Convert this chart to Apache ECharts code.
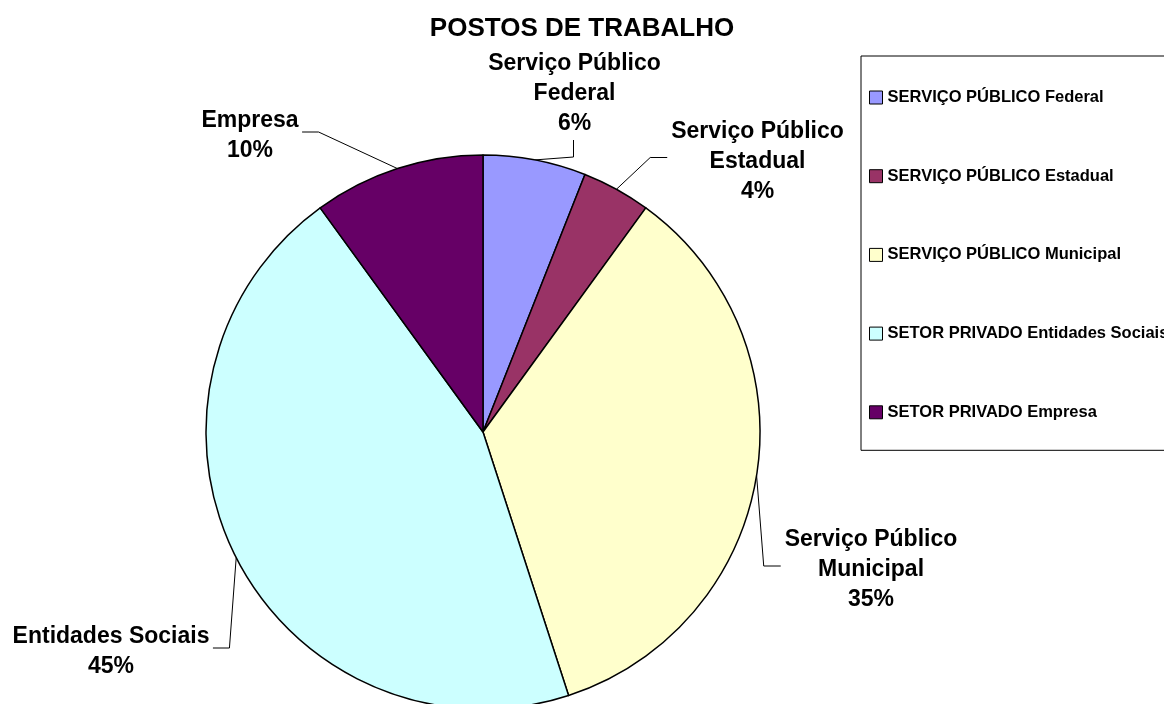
<!DOCTYPE html>
<html>
<head>
<meta charset="utf-8">
<title>POSTOS DE TRABALHO</title>
<script src="https://cdn.jsdelivr.net/npm/echarts@6.0.0/dist/echarts.min.js"></script>
<style>
  html, body { margin: 0; padding: 0; background: #fff; }
  #chart { width: 1164px; height: 704px; }
</style>
</head>
<body>
<div id="chart"></div>
<script>
// data
const legendNames = [
  'SERVIÇO PÚBLICO Federal',
  'SERVIÇO PÚBLICO Estadual',
  'SERVIÇO PÚBLICO Municipal',
  'SETOR PRIVADO Entidades Sociais',
  'SETOR PRIVADO Empresa'
];
const sliceLabels = [
  'Serviço Público\nFederal',
  'Serviço Público\nEstadual',
  'Serviço Público\nMunicipal',
  'Entidades Sociais',
  'Empresa'
];
const shares = [6, 4, 35, 45, 10];

const colors = ['#9999FF', '#993366', '#FFFFCC', '#CCFFFF', '#660066'];

// label centres and which side the leader line comes in from
const labelSpots = [
  { x: 574.5, y: 92, side: 'below' },
  { x: 757.5, y: 159.5, side: 'left' },
  { x: 871, y: 568, side: 'left' },
  { x: 111, y: 650, side: 'right' },
  { x: 250, y: 134, side: 'right' }
];

const FONT = '"Liberation Sans", Arial, Helvetica, sans-serif';
const LABEL_SIZE = 23;
const LINE_H = 30;
const TEXT_NUDGE = 2; // canvas 'middle' sits a touch high

const measure = document.createElement('canvas').getContext('2d');
measure.font = 'bold ' + LABEL_SIZE + 'px ' + FONT;
function blockWidth(str) {
  return Math.max.apply(null, str.split('\n').map(s => measure.measureText(s).width));
}

const chart = echarts.init(document.getElementById('chart'), null, { renderer: 'canvas' });

chart.setOption({
  animation: false,
  backgroundColor: '#fff',
  color: colors,
  title: {
    text: 'POSTOS DE TRABALHO',
    left: 'center',
    top: 16,
    padding: 0,
    textStyle: {
      fontFamily: FONT,
      fontSize: 26,
      fontWeight: 'bold',
      color: '#000',
      lineHeight: 26
    }
  },
  legend: {
    orient: 'vertical',
    left: 861,
    top: 56,
    padding: [33, 400, 29.5, 8],
    itemGap: 61.7,
    itemWidth: 13,
    itemHeight: 13,
    icon: 'rect',
    borderColor: '#000',
    borderWidth: 1,
    selectedMode: false,
    itemStyle: { borderColor: '#000', borderWidth: 1 },
    textStyle: {
      fontFamily: FONT,
      fontSize: 16.5,
      fontWeight: 'bold',
      color: '#000',
      lineHeight: 16
    },
    data: legendNames
  },
  series: [
    {
      type: 'pie',
      center: [483, 432],
      radius: 277,
      startAngle: 90,
      clockwise: true,
      avoidLabelOverlap: false,
      emphasis: { disabled: true },
      itemStyle: { borderColor: '#000', borderWidth: 1.5 },
      label: {
        show: true,
        position: 'outside',
        overflow: 'none',
        fontFamily: FONT,
        fontSize: LABEL_SIZE,
        fontWeight: 'bold',
        color: '#000',
        lineHeight: LINE_H,
        formatter: p => sliceLabels[p.dataIndex] + '\n' + Math.round(p.percent) + '%'
      },
      labelLine: {
        show: true,
        length: 20,
        length2: 20,
        lineStyle: { color: '#000', width: 1 }
      },
      labelLayout: function (params) {
        const spot = labelSpots[params.dataIndex];
        const w = blockWidth(params.text);
        const h = params.text.split('\n').length * LINE_H;
        const edge = params.labelLinePoints[0];
        let pts;
        if (spot.side === 'below') {
          const b = spot.y + h / 2;
          pts = [edge, [spot.x - 1, b + 20], [spot.x - 1, b + 3]];
        } else if (spot.side === 'left') {
          const l = spot.x - w / 2;
          pts = [edge, [l - 21, spot.y - 2], [l - 4, spot.y - 2]];
        } else {
          const r = spot.x + w / 2;
          pts = [edge, [r + 20, spot.y - 2], [r + 3.5, spot.y - 2]];
        }
        return {
          x: spot.x,
          y: spot.y + TEXT_NUDGE,
          align: 'center',
          verticalAlign: 'middle',
          labelLinePoints: pts
        };
      },
      data: legendNames.map((name, i) => ({ name: name, value: shares[i] }))
    }
  ]
});
</script>
</body>
</html>
